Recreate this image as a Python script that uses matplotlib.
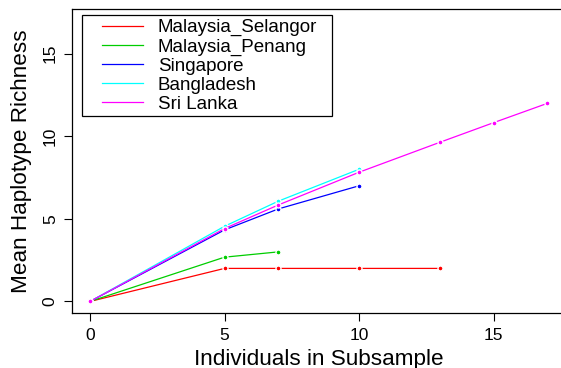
import matplotlib
matplotlib.use("Agg")
import matplotlib.pyplot as plt
from matplotlib.legend_handler import HandlerLine2D

# Haplotype richness by subsample size
names = ["Malaysia_Selangor", "Malaysia_Penang", "Singapore", "Bangladesh", "Sri Lanka"]
colors = ["#FF0000", "#00CD00", "#0000FF", "#00FFFF", "#FF00FF"]

sel_x = [0, 5, 7, 10, 13]
sel_y = [0, 2.0, 2.0, 2.0, 2.0]
pen_x = [0, 5, 7]
pen_y = [0, 2.68, 3.0]
sin_x = [0, 5, 7, 10]
sin_y = [0, 4.33, 5.6, 7.0]
ban_x = [0, 5, 7, 10]
ban_y = [0, 4.55, 6.07, 8.0]
sri_x = [0, 5, 7, 10, 13, 15, 17]
sri_y = [0, 4.41, 5.84, 7.82, 9.63, 10.82, 11.99]

xs = [sel_x, pen_x, sin_x, ban_x, sri_x]
ys = [sel_y, pen_y, sin_y, ban_y, sri_y]

plt.rcParams['font.family'] = ['Liberation Sans', 'DejaVu Sans']

fig = plt.figure(figsize=(5.61, 3.68), dpi=100)
ax = fig.add_axes([0.1278, 0.1503, 0.8806, 0.8244])

lines = []
for x, y, c, n in zip(xs, ys, colors, names):
    ln, = ax.plot(x, y, color=c, lw=0.9, label=n, marker='o', ms=3.6,
                  mfc=c, mec='white', mew=1.0)
    lines.append(ln)

ax.set_xlim(-0.68, 17.68)
ax.set_ylim(-0.68, 17.68)
ax.set_xticks([0, 5, 10, 15])
ax.set_yticks([0, 5, 10, 15])
ax.tick_params(direction='out', length=6, width=0.8, labelsize=12.5)
ax.tick_params(axis='x', pad=5)
ax.tick_params(axis='y', pad=4)
for lab in ax.get_yticklabels():
    lab.set_rotation(90)
    lab.set_va('center')
ax.set_xlabel("Individuals in Subsample", fontsize=16.2, labelpad=4)
ax.set_ylabel("Mean Haplotype Richness", fontsize=16.2, labelpad=8)
for s in ax.spines.values():
    s.set_linewidth(0.9)

# legend box placed like R's legend("topleft")
leg = ax.legend(loc='upper left',
                bbox_to_anchor=(81.7 / 561, 1 - 114 / 368, 250 / 561, 98.7 / 368),
                bbox_transform=fig.transFigure, mode='expand',
                fontsize=13.5, frameon=True,
                fancybox=False, framealpha=1, edgecolor='black',
                handlelength=3.05, handletextpad=0.8, labelspacing=0.1,
                borderpad=0.2, borderaxespad=0,
                handler_map={ln: HandlerLine2D(xpad=0.87) for ln in lines})
leg.get_frame().set_linewidth(0.9)
for h in leg.legend_handles:
    h.set_marker('')

fig.savefig("out.png", dpi=100)
